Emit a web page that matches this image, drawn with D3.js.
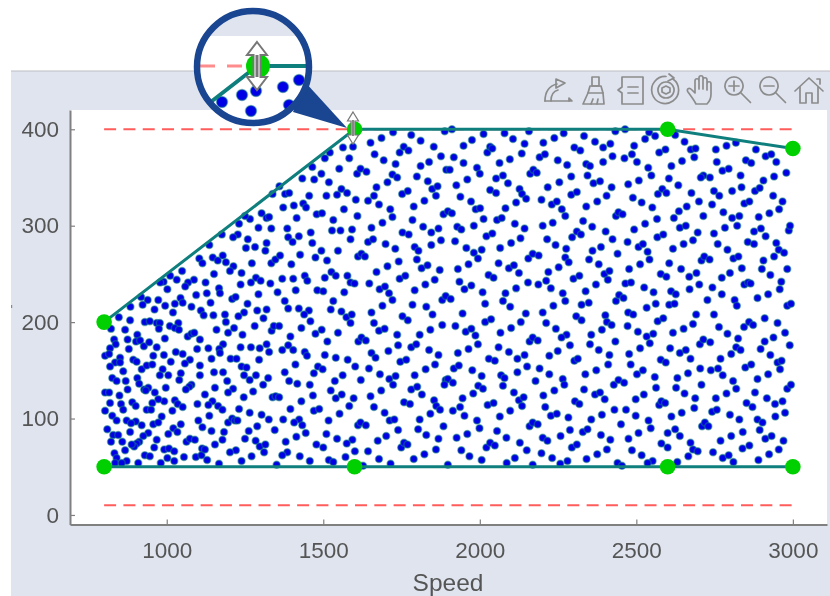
<!DOCTYPE html>
<html><head><meta charset="utf-8"><title>Speed operating points</title>
<script src="https://cdnjs.cloudflare.com/ajax/libs/d3/7.8.5/d3.min.js"></script>
<style>html,body{margin:0;padding:0;background:#fff;overflow:hidden}svg{display:block;filter:blur(.5px)}text{font-family:"Liberation Sans",Arial,sans-serif;fill:#555}</style>
</head><body><svg id="c" width="830" height="596"></svg>
<script>
const xTicks=[1000,1500,2000,2500,3000];
const yTicks=[0,100,200,300,400];
const xLabel="Speed";
const upperLimit=[[800,200],[1600,400],[2600,400],[3000,380]];
const lowerLimit=[[800,50],[1600,50],[2600,50],[3000,50]];
const dashTop=[[800,400],[3000,400]];
const dashBottom=[[800,10],[3000,10]];
const pointsUpperMid=[[1723,397],[1781,394],[1888,398],[1911,400],[2012,395],[2079,396],[2157,398],[2268,396],[1686,391],[1651,386],[1811,388],[1853,382],[1948,383],[1975,389],[2106,390],[2143,385],[2203,386],[2238,391],[2302,381],[1563,381],[1595,382],[1521,376],[1505,370],[1583,370],[1664,374],[1693,368],[1731,364],[1744,376],[1757,382],[1772,378],[1876,372],[1917,371],[1948,365],[2024,376],[2033,382],[2040,380],[2134,375],[2191,371],[2208,374],[2096,369],[2063,365],[2249,368],[2279,363],[1494,354],[1551,359],[1608,354],[1619,359],[1638,356],[1721,353],[1736,350],[1811,362],[1838,366],[1799,351],[1834,346],[1893,358],[1904,358],[1991,360],[2000,354],[1960,348],[2052,349],[2074,352],[2090,344],[2161,354],[2171,358],[2182,355],[2254,345],[2292,351],[1518,345],[1670,340],[1705,345],[1925,342],[2217,340],[1558,338],[1544,332],[1510,331],[1576,334],[1604,327],[1643,326],[1662,331],[1678,322],[1752,333],[1770,336],[1848,338],[1865,341],[1860,331],[1823,326],[1789,320],[1938,330],[1972,325],[2033,337],[2052,334],[2127,338],[2135,333],[2148,328],[2116,324],[2197,327],[2292,332],[2310,335],[2230,322],[2246,325],[2262,317],[2273,310],[1566,317],[1496,313],[1609,310],[1714,317],[1721,309],[1689,303],[1532,306],[1528,295],[1555,295],[1592,296],[1654,298],[1785,306],[1819,299],[1845,293],[1868,297],[1884,312],[1898,315],[1911,313],[1987,317],[2001,318],[2082,318],[2012,307],[2055,306],[2070,308],[1981,300],[1928,299],[1941,296],[2021,289],[2040,292],[2112,302],[2143,297],[2201,300],[2233,303],[1587,286],[1643,283],[1659,286],[1753,293],[1773,291],[1845,280],[1876,285],[1921,284],[1957,277],[2006,275],[1981,272],[1994,266],[2065,277],[2100,282],[2130,287],[2215,286],[2242,280],[2295,288],[2310,294],[2276,276],[1494,274],[1547,274],[1699,281],[1730,276],[1792,278],[1804,274],[1799,265],[1611,268],[1622,271],[1633,268],[1512,264],[1741,263],[1705,258],[1814,256],[1833,259],[1930,255],[1964,260],[2060,261],[2093,256],[2109,259],[2125,251],[2155,266],[2169,271],[2188,269],[2273,267],[2284,262],[2252,257],[1872,254],[1670,252],[1526,252],[1505,246],[1540,248],[1577,248],[1587,241],[1600,240],[1647,240],[1744,245],[1762,248],[1856,244],[1826,239],[1935,242],[2028,249],[2044,246],[2219,252],[2212,243],[2187,239],[2154,241],[2227,235],[2116,235],[1973,238],[1951,234],[2009,231],[2082,230],[1680,234],[1697,237],[1710,230],[1721,223],[1792,233],[1567,231],[1500,232],[1532,222],[2265,230],[2273,222],[1689,217],[1785,218],[1829,216],[1880,223],[1891,227],[1907,224],[2074,222],[2097,216],[2017,219],[2235,217],[1524,213]];
const pointsUpperRight=[[2333,393],[2368,387],[2433,398],[2464,400],[2541,397],[2560,393],[2528,390],[2624,394],[2654,387],[2818,386],[2788,383],[2754,379],[2417,385],[2394,381],[2321,378],[2493,383],[2486,374],[2462,370],[2424,372],[2394,366],[2502,366],[2573,376],[2593,379],[2674,379],[2689,380],[2685,371],[2646,367],[2612,362],[2757,366],[2882,379],[2913,372],[2931,374],[2947,366],[2979,355],[2340,364],[2352,362],[2344,352],[2538,360],[2548,352],[2604,349],[2714,352],[2706,350],[2735,350],[2775,357],[2795,359],[2833,352],[2850,368],[2867,365],[2940,351],[2906,347],[2363,344],[2384,346],[2421,340],[2474,343],[2508,347],[2634,342],[2405,331],[2375,325],[2489,329],[2517,324],[2551,319],[2569,333],[2583,338],[2596,334],[2676,334],[2700,325],[2742,322],[2748,336],[2765,331],[2806,336],[2836,340],[2879,336],[2894,339],[2937,331],[2967,325],[2845,323],[2861,325],[2340,320],[2661,320],[2636,315],[2620,308],[2714,310],[2778,314],[2806,308],[2829,310],[2891,309],[2925,313],[2956,317],[2435,310],[2443,314],[2456,312],[2330,305],[2359,299],[2566,307],[2528,302],[2493,296],[2402,294],[2639,298],[2658,300],[2783,298],[2822,300],[2876,294],[2898,297],[2987,295],[2991,300],[2323,291],[2424,286],[2567,288],[2586,291],[2696,293],[2748,292],[2913,289],[2472,283],[2651,281],[2681,285],[2856,283],[2876,281],[2947,282],[2360,274],[2387,278],[2507,278],[2521,281],[2536,273],[2617,276],[2760,281],[2791,275],[2955,275],[2972,272],[2940,268],[2349,265],[2440,271],[2380,260],[2542,265],[2512,260],[2605,261],[2708,264],[2717,268],[2734,265],[2810,266],[2826,268],[2906,264],[2477,255],[2643,255],[2837,256],[2901,255],[2982,255],[2299,245],[2318,248],[2398,250],[2414,253],[2409,244],[2578,250],[2596,247],[2669,247],[2692,251],[2773,246],[2799,251],[2928,249],[2371,239],[2465,240],[2483,241],[2525,236],[2701,239],[2670,234],[2743,236],[2845,239],[2857,241],[2865,240],[2963,242],[2958,234],[2338,232],[2555,231],[2611,232],[2626,229],[2773,229],[2921,229],[2435,222],[2445,228],[2459,225],[2887,225],[2727,223],[2814,223],[2325,218],[2348,220],[2562,219],[2605,218],[2622,219],[2533,215],[2821,217],[2982,217],[2994,219]];
const pointsLowerMid=[[1558,211],[1574,205],[1591,208],[1587,199],[1654,210],[1662,199],[1678,191],[1696,193],[1736,187],[1753,206],[1770,202],[1849,208],[1808,187],[1842,192],[1880,197],[1922,196],[1945,209],[2017,200],[2036,203],[1955,190],[1973,193],[1986,186],[1994,177],[2066,189],[2100,194],[2131,200],[2147,209],[2201,210],[2212,199],[2243,193],[2277,187],[2261,184],[2308,206],[2288,176],[1495,192],[1547,189],[1513,180],[1612,180],[1622,184],[1636,181],[1708,170],[1739,176],[1781,174],[1797,177],[1838,171],[1868,166],[1930,168],[1964,172],[2060,174],[2093,169],[2120,162],[2143,166],[2159,180],[2169,184],[2185,181],[2222,165],[2249,170],[1505,166],[1540,163],[1578,161],[1654,168],[1667,163],[1602,154],[1646,152],[1746,159],[1765,161],[1857,156],[1827,151],[1917,152],[1933,155],[2029,162],[2048,160],[1976,150],[2151,154],[2191,152],[2120,148],[2222,146],[2302,160],[2313,162],[1498,151],[1562,145],[1537,139],[1620,140],[1681,146],[1711,141],[1731,144],[1723,135],[1792,145],[1891,140],[1898,141],[1914,137],[1887,135],[2006,144],[2068,145],[2079,142],[2074,134],[2178,139],[2265,141],[2270,135],[1524,129],[1540,121],[1559,125],[1597,121],[1651,123],[1685,129],[1781,130],[1800,133],[1815,125],[1945,121],[1995,134],[2010,131],[1979,126],[2109,127],[2125,119],[2140,122],[2135,113],[2203,124],[2238,129],[1583,113],[1662,112],[1758,117],[1777,115],[1854,119],[1861,113],[1873,109],[1914,108],[1937,112],[2025,114],[2044,116],[2097,108],[2209,112],[2304,118],[2318,115],[1552,105],[1696,106],[1842,105],[1951,103],[2064,102],[2227,103],[2246,105],[2283,101],[1517,98],[1712,98],[1727,99],[1808,99],[1991,98],[1611,93],[1619,96],[1636,93],[1884,92],[1999,90],[2159,92],[2169,96],[2185,94],[2288,88],[1739,88],[1803,89],[2055,87],[1510,84],[1544,79],[1593,78],[1575,74],[1701,82],[1674,77],[1829,83],[1868,79],[1926,80],[1960,84],[2085,80],[2201,80],[2216,77],[2258,82],[2128,75],[1500,70],[1749,70],[1758,75],[1769,73],[1860,68],[2021,70],[2033,75],[2048,72],[2294,70],[2310,73],[1601,66],[1643,66],[1941,67],[2150,67],[2197,64],[1518,57],[1532,55],[1571,60],[1678,58],[1715,53],[1789,58],[1823,63],[1967,61],[2006,57],[2112,59],[2086,54],[2231,59],[2257,53],[2280,56],[2169,52],[1898,52],[1627,51]];
const pointsLowerRight=[[2325,202],[2401,207],[2406,200],[2421,197],[2474,210],[2490,208],[2472,196],[2390,192],[2356,187],[2505,190],[2533,185],[2554,188],[2543,178],[2568,201],[2586,204],[2617,189],[2651,193],[2681,198],[2691,208],[2748,208],[2764,195],[2791,188],[2825,183],[2844,195],[2860,200],[2873,197],[2910,204],[2951,199],[2975,189],[2938,184],[2910,180],[2897,172],[2990,176],[2352,177],[2433,180],[2380,171],[2414,166],[2477,167],[2512,173],[2608,173],[2639,168],[2658,171],[2673,162],[2703,177],[2714,182],[2736,179],[2819,174],[2833,171],[2803,167],[2928,166],[2410,156],[2482,156],[2578,161],[2594,158],[2769,162],[2848,153],[2867,156],[2951,158],[2964,160],[2959,151],[2337,146],[2372,150],[2502,146],[2521,150],[2559,143],[2665,147],[2704,152],[2738,150],[2761,152],[2776,145],[2631,142],[2887,141],[2921,146],[2428,135],[2443,140],[2461,137],[2563,132],[2627,132],[2708,135],[2809,139],[2819,131],[2982,131],[2994,135],[2333,130],[2368,125],[2384,127],[2399,120],[2498,120],[2524,125],[2654,126],[2688,121],[2754,121],[2788,126],[2879,127],[2917,121],[2943,115],[2967,118],[2573,114],[2580,118],[2592,116],[2685,111],[2742,107],[2757,109],[2852,116],[2871,112],[2430,109],[2467,109],[2390,104],[2498,103],[2645,106],[2799,104],[2975,106],[2944,102],[2356,99],[2539,98],[2612,102],[2829,99],[2887,99],[2903,96],[2451,94],[2546,90],[2624,89],[2710,92],[2719,96],[2730,92],[2894,88],[2329,86],[2344,89],[2387,83],[2507,85],[2600,85],[2639,82],[2840,86],[2912,79],[2932,82],[2417,78],[2475,79],[2673,75],[2769,77],[2803,82],[2970,77],[2580,74],[2600,70],[2681,68],[2696,66],[2745,65],[2839,69],[2861,72],[2955,68],[2406,68],[2486,67],[2375,63],[2341,58],[2517,62],[2666,61],[2776,59],[2795,62],[2924,63],[2890,57],[2552,56],[2536,54],[2440,54],[2454,51],[2631,55],[2810,55]];
const pointsUpperLeft=[[1465,361],[1433,349],[1471,348],[1455,331],[1360,341],[1338,333],[1378,333],[1391,334],[1406,321],[1372,319],[1436,323],[1445,319],[1303,313],[1319,308],[1327,309],[1266,307],[1250,310],[1415,308],[1479,312],[1231,302],[1293,298],[1334,297],[1385,297],[1460,293],[1176,291],[1227,291],[1212,288],[1259,286],[1388,288],[1402,283],[1422,289],[1319,282],[1465,282],[1136,280],[1253,277],[1282,278],[1315,274],[1104,266],[1114,261],[1147,267],[1163,264],[1179,269],[1189,262],[1213,258],[1202,253],[1272,261],[1334,261],[1347,265],[1362,269],[1398,260],[1426,270],[1475,267],[1239,251],[1049,253],[1011,248],[1032,244],[990,242],[979,241],[1151,250],[1087,244],[1068,241],[1059,237],[1124,241],[1002,234],[1285,246],[1269,241],[1300,243],[1236,239],[1331,240],[1369,245],[1404,245],[1441,248],[1449,243],[1354,231],[1412,233],[1481,233],[1167,235],[1170,230],[1128,230],[1094,228],[1293,229],[1209,224],[1220,226],[1044,225],[1051,220],[1026,219],[973,223],[939,223],[918,226],[923,218],[884,216],[995,217],[1140,220],[1258,219],[1079,216],[1020,210],[961,213],[1109,212],[1118,207],[1149,207],[1186,208],[1247,210],[1229,206],[1289,212],[1319,213],[1377,222],[1388,214],[1422,214],[1454,212],[1439,208],[847,205],[1309,204]];
const pointsLowerLeft=[[822,193],[832,182],[867,192],[883,202],[930,200],[946,201],[968,199],[978,199],[975,193],[1010,196],[1037,199],[1026,194],[1039,192],[994,183],[1067,185],[1079,188],[1088,189],[1106,182],[875,182],[906,187],[902,180],[915,181],[879,172],[927,175],[944,179],[968,174],[957,165],[837,177],[819,173],[803,165],[816,167],[991,166],[1029,169],[1051,167],[1097,172],[893,161],[904,159],[851,163],[835,158],[851,158],[819,154],[920,151],[936,155],[954,156],[1013,159],[1074,161],[1058,157],[987,151],[861,149],[1106,155],[826,142],[840,139],[869,139],[906,142],[912,136],[978,145],[1005,145],[1045,147],[1040,140],[1106,145],[997,132],[1079,135],[1072,133],[1061,130],[875,130],[928,130],[941,132],[933,129],[803,127],[816,127],[849,124],[962,127],[992,118],[973,120],[954,116],[1026,119],[1035,115],[1051,112],[819,116],[854,115],[890,117],[901,113],[861,109],[1098,115],[803,108],[936,109],[950,109],[1018,108],[984,102],[826,103],[840,98],[872,98],[901,97],[886,95],[920,93],[957,94],[973,96],[1045,94],[1101,98],[1021,90],[883,86],[810,89],[829,83],[845,83],[941,85],[925,82],[1005,84],[1034,86],[1114,91],[822,76],[858,76],[968,78],[912,76],[904,74],[896,71],[1063,76],[1074,79],[1090,78],[867,67],[960,70],[888,73],[992,68],[1007,69],[1024,66],[1113,69],[833,64],[840,59],[930,62],[946,61],[1002,59],[1055,60],[1093,60],[1111,62],[872,56],[835,54],[909,54],[981,54],[1024,56],[856,54]];
const pointsLowerCentre=[[1159,192],[1196,189],[1215,194],[1242,187],[1281,196],[1335,191],[1342,196],[1359,196],[1395,185],[1430,194],[1189,200],[1133,173],[1180,177],[1168,172],[1170,168],[1143,162],[1236,174],[1269,174],[1297,173],[1319,177],[1327,169],[1369,171],[1388,176],[1404,171],[1441,169],[1448,165],[1204,162],[1223,162],[1295,161],[1239,154],[1255,153],[1411,156],[1151,148],[1180,148],[1247,145],[1285,145],[1265,140],[1324,142],[1377,148],[1193,139],[1308,135],[1391,139],[1417,136],[1154,132],[1122,125],[1212,131],[1196,127],[1276,128],[1246,122],[1338,122],[1348,123],[1359,122],[1430,118],[1146,118],[1133,114],[1164,113],[1178,109],[1231,110],[1265,106],[1395,110],[1303,104],[1326,99],[1136,103],[1196,96],[1209,100],[1218,98],[1226,98],[1372,99],[1423,99],[1407,96],[1143,87],[1289,92],[1262,87],[1345,88],[1433,93],[1444,85],[1183,86],[1250,79],[1178,78],[1154,73],[1284,77],[1380,76],[1414,81],[1122,68],[1297,71],[1315,73],[1221,67],[1202,65],[1311,65],[1271,61],[1385,65],[1369,62],[1425,61],[1129,57],[1239,56],[1167,53],[1351,52],[1459,201],[1475,188],[1470,147],[1483,154],[1457,135],[1467,124],[1470,108],[1487,110],[1478,73],[1457,56]];
const allPoints=[...pointsUpperLeft,...pointsUpperMid,...pointsUpperRight,...pointsLowerLeft,...pointsLowerCentre,...pointsLowerMid,...pointsLowerRight];
const bg="#dfe4ef",teal="#0f7f7e",green="#00d000",blue="#0000e6",red="#ff5c5c",grey="#808080",navy="#1a4590";
const svg=d3.select("#c");
svg.append("rect").attr("x",11).attr("y",71).attr("width",819).attr("height",525).attr("fill",bg);
svg.append("line").attr("x1",11).attr("x2",830).attr("y1",71).attr("y2",71).attr("stroke","#bdbdc4").attr("stroke-width",1.2);
svg.append("rect").attr("x",11).attr("y",305).attr("width",1.2).attr("height",3).attr("fill","#888");
const L=70,R=827,T=110,B=524.6;
svg.append("rect").attr("x",L).attr("y",T).attr("width",R-L).attr("height",B-T).attr("fill","#fff");
const x=d3.scaleLinear().domain([691,3109]).range([L,R]);
const y=d3.scaleLinear().domain([-10,420]).range([B,T]);
const xAxis=svg.append("g").attr("transform",`translate(0,${B})`).call(d3.axisBottom(x).tickValues(xTicks).tickSizeInner(-5).tickSizeOuter(0).tickPadding(17).tickFormat(d3.format("d")));
const yAxis=svg.append("g").attr("transform",`translate(${L},0)`).call(d3.axisLeft(y).tickValues(yTicks).tickSizeInner(-5).tickSizeOuter(0).tickPadding(11).tickFormat(d3.format("d")));
[xAxis,yAxis].forEach(a=>{a.select(".domain").attr("stroke",grey).attr("stroke-width",2);a.selectAll(".tick line").attr("stroke",grey).attr("stroke-width",1.2);a.selectAll("text").attr("font-size",22.5).attr("font-family","Liberation Sans").attr("fill","#555");});
svg.append("text").attr("x",448).attr("y",590.5).attr("text-anchor","middle").attr("font-size",24.5).text(xLabel);
const line=d3.line().x(d=>x(d[0])).y(d=>y(d[1]));
[dashTop,dashBottom].forEach(d=>svg.append("path").attr("d",line(d)).attr("fill","none").attr("stroke",red).attr("stroke-width",1.9).attr("stroke-dasharray","12 7.3"));
svg.append("g").selectAll("circle").data(allPoints).join("circle").attr("cx",d=>x(d[0])).attr("cy",d=>y(d[1])).attr("r",3.5).attr("fill",blue).attr("stroke",teal).attr("stroke-opacity",.5).attr("stroke-width",1.5);
[upperLimit,lowerLimit].forEach(d=>svg.append("path").attr("d",line(d)).attr("fill","none").attr("stroke",teal).attr("stroke-width",3));
svg.append("g").selectAll("circle").data([...upperLimit,...lowerLimit]).join("circle").attr("cx",d=>x(d[0])).attr("cy",d=>y(d[1])).attr("r",7.8).attr("fill",green);
// toolbar icons
const ic=svg.append("g").attr("fill","none").attr("stroke","#8c8c8c").attr("stroke-width",1.7).attr("stroke-linejoin","round").attr("stroke-linecap","round");
const icon=(cx,cy,parts)=>{const g=ic.append("g").attr("transform",`translate(${cx},${cy})`);parts.forEach(p=>g.append("path").attr("d",p));};
icon(558,90,["M-13 11h24","M-13 11c0-9 4-15 12-17","M-7 11c0-6 3-10 7-11","M-2-11l9 4-9 5z","M11 8l3 3h-3z"]);
icon(595,90,["M-3-13h7v9h-7z","M-5-4h11l2 7h-15z","M-7 3l-5 11h21l-1-11","M-4 14l2-5M2 14l1-5"]);
icon(631,90,["M-9-13h21v27h-21v-11l-4-3 4-3z","M-3-3h10M-3 3h10"]);
icon(666,90,["M7-11a13.5 13.5 0 1 1-7-2.5","M3-16l5 4-6 3","M0-8a8 8 0 1 0 .01 0","M0-4l4 2v4l-4 2-4-2v-4z"]);
icon(702,90,["M-6 14c-2-4-5-8-8-12-2-3 1-5 4-2l3 3v-12c0-3 4-3 4 0v8-11c0-3 4-3 4 0v11-9c0-3 4-3 4 0v10-6c0-3 4-3 4 0v10c0 5-2 8-4 10z"]);
icon(734,86,["M0-9a9 9 0 1 0 .01 0","M6.5 6.5l10 10","M-5 0h10M0-5v10"]);
icon(769,86,["M0-9a9 9 0 1 0 .01 0","M6.5 6.5l10 10","M-5 0h10"]);
icon(809,90,["M-14 1l14-13 14 13","M-9-3v16h6v-10h6v10h6v-16","M8-11h3v5"]);
// magnifier
const cur=(g,cx,top,bot,hw,hh,sw)=>g.append("path").attr("d",`M${cx} ${top}L${cx+hw} ${top+hh}H${cx+hw*.35}V${bot-hh}H${cx+hw}L${cx} ${bot}L${cx-hw} ${bot-hh}H${cx-hw*.35}V${top+hh}H${cx-hw}Z`).attr("fill","#fff").attr("stroke","#777").attr("stroke-width",sw);
const cg=svg.append("g");cur(cg,353,112,144,5.5,9,1.2);
cg.append("line").attr("x1",353).attr("x2",353).attr("y1",120).attr("y2",136).attr("stroke","#555").attr("stroke-width",1.4);
svg.append("path").attr("d","M305 82L293 112L347 128Z").attr("fill",navy);
const defs=svg.append("defs");defs.append("clipPath").attr("id","lens").append("circle").attr("cx",253).attr("cy",67).attr("r",56);
const lens=svg.append("g").attr("clip-path","url(#lens)");
lens.append("rect").attr("x",190).attr("y",5).attr("width",130).attr("height",125).attr("fill","#fff");
lens.append("rect").attr("x",190).attr("y",5).attr("width",130).attr("height",31).attr("fill",bg);
lens.append("path").attr("d","M200 66H242").attr("stroke","#ff8c8c").attr("stroke-width",2.8).attr("stroke-dasharray","15 12");
[[222,102],[242,95],[256,91],[251,111],[283,87],[299,80],[289,105]].forEach(p=>lens.append("circle").attr("cx",p[0]).attr("cy",p[1]).attr("r",5.5).attr("fill",blue).attr("stroke",teal).attr("stroke-opacity",.45).attr("stroke-width",1.5));
lens.append("path").attr("d","M212 101L252 70M258 66H312").attr("fill","none").attr("stroke",teal).attr("stroke-width",4);
lens.append("circle").attr("cx",258).attr("cy",66).attr("r",12).attr("fill",green);
cur(lens,257,42,90,10,13,2);
lens.append("line").attr("x1",257).attr("x2",257).attr("y1",55).attr("y2",77).attr("stroke","#777").attr("stroke-width",3);
svg.append("circle").attr("cx",253).attr("cy",67).attr("r",56).attr("fill","none").attr("stroke",navy).attr("stroke-width",6.5);
</script></body></html>
